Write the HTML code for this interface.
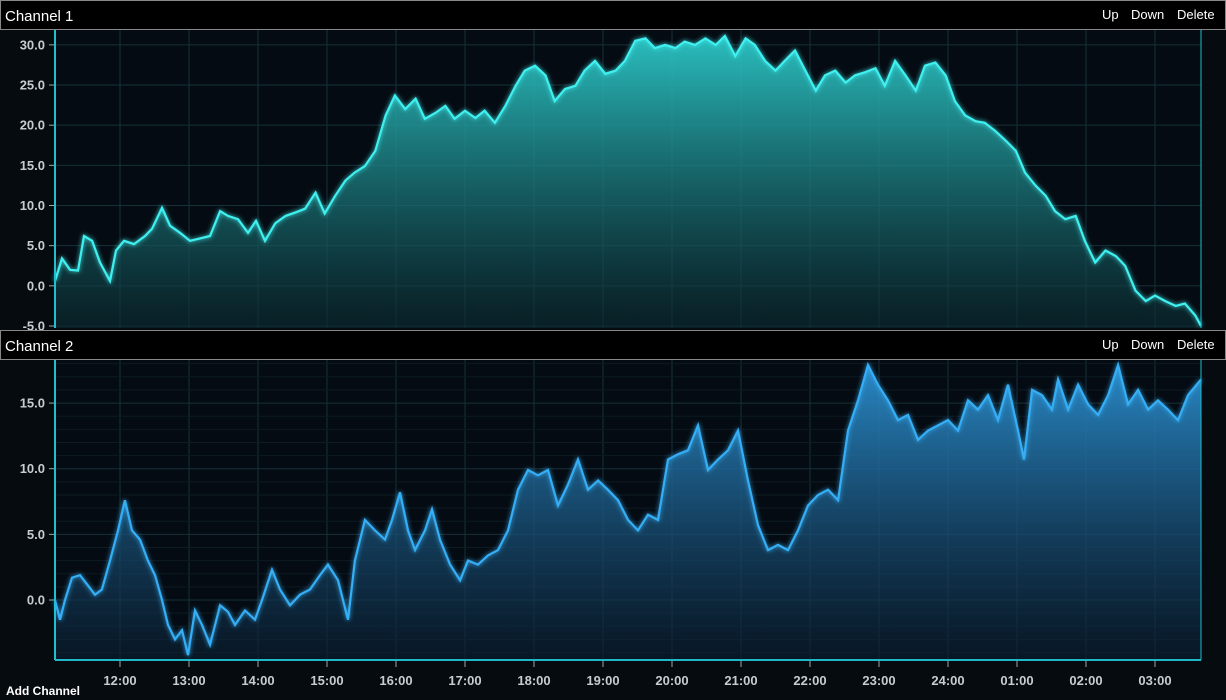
<!DOCTYPE html>
<html><head><meta charset="utf-8"><style>
html,body{margin:0;padding:0;background:#060b10;width:1226px;height:700px;overflow:hidden;font-family:"Liberation Sans",sans-serif}
svg{position:absolute;left:0;top:0}
</style></head><body>
<svg id="chart" width="1226" height="700"></svg>
<script>
// minutes since 11:00
const ch1Times=[3.5,9.6,16.5,23.5,28.7,35.7,42.6,51.3,56.5,63.5,72.2,81.7,87.8,96.5,103.5,112.2,120.9,129.6,138.3,147,153.9,162.6,171.3,178.3,186.1,195,204,212,221,230,238,247,256,264,273,282,291,299,308,317,325,334,343,351,360,369,377,386,395,404,412,421,430,438,447,456,464,473,482,491,499,508,517,525,534,543,551,560,569,578,586,595,604,612,621,630,638,647,656,665,673,682,691,699,708,717,725,734,743,752,760,769,778,786,795,804,812,821,830,839,847,856,865,873,882,891,899,908,917,926,934,943,952,960,969,978,986,995,1000];
const ch1Values=[0.6,3.4,2,1.9,6.2,5.6,2.9,0.6,4.4,5.6,5.2,6.2,7.1,9.7,7.5,6.6,5.6,5.9,6.2,9.3,8.7,8.3,6.6,8.1,5.6,7.8,8.7,9.1,9.6,11.6,9,11.2,13.1,14.1,14.9,16.8,21.2,23.7,22,23.3,20.8,21.5,22.4,20.8,21.8,20.9,21.8,20.3,22.4,24.9,26.8,27.4,26.2,23,24.5,24.9,26.8,28,26.4,26.8,28,30.5,30.8,29.6,30,29.6,30.4,30,30.8,30,31.1,28.6,30.8,30,28,26.8,28,29.3,26.8,24.3,26.2,26.8,25.3,26.2,26.6,27.1,24.9,28,26.2,24.3,27.4,27.8,26.2,23,21.2,20.5,20.3,19.3,18.1,16.8,14.1,12.5,11.2,9.3,8.3,8.7,5.6,2.9,4.4,3.7,2.5,-0.6,-1.9,-1.2,-1.9,-2.5,-2.2,-3.7,-5];
const ch2Times=[3.5,7.8,12.2,18.3,25.2,32.2,38.3,44.3,51.3,58.3,64.3,70.4,77.4,84.3,90.4,96.5,101.7,107.8,113.9,119.1,125.2,131.3,138.3,147,153.9,160,168.7,177.4,183.5,192.2,199.1,207.8,216.5,225.2,233.9,240.9,249.6,258.3,264.3,273,281.7,290.4,296.5,303.5,310.4,316.5,325.2,331.3,338.3,347,355.7,362.6,371.3,380,388.7,397.4,406.1,414.8,423.5,432.2,440.9,449.6,458.3,467,475.7,484.3,493,501.7,510.4,519.1,527.8,536.5,545.2,553.9,562.6,571.3,580,588.7,597.4,606.1,614.8,623.5,632.2,640.9,649.6,658.3,667,675.7,684.4,693,701.7,710.4,719.1,727.8,736.5,745.2,753.9,762.6,771.3,780,788.7,797.4,806.1,814.8,823.5,832.2,840.9,846.1,853.1,861.8,870.4,875.7,884.4,893.1,901.8,910.5,919.2,927.9,936.6,945.3,954,962.6,971.3,980,988.7,1000];
const ch2Values=[0,-1.5,0,1.7,1.9,1.1,0.4,0.8,3,5.3,7.6,5.3,4.6,3,1.9,0,-1.9,-3,-2.3,-4.2,-0.8,-1.9,-3.4,-0.4,-0.9,-1.9,-0.8,-1.5,0,2.3,0.8,-0.4,0.4,0.8,1.9,2.7,1.5,-1.5,3,6.1,5.3,4.6,6.1,8.2,5.3,3.8,5.3,6.9,4.6,2.7,1.5,3,2.7,3.4,3.8,5.3,8.4,9.9,9.5,9.9,7.2,8.8,10.7,8.4,9.1,8.4,7.6,6.1,5.3,6.5,6.1,10.7,11.1,11.4,13.3,9.9,10.7,11.4,12.9,9.1,5.7,3.8,4.2,3.8,5.3,7.2,8,8.4,7.6,12.9,15.2,17.9,16.4,15.2,13.7,14.1,12.2,12.9,13.3,13.7,12.9,15.2,14.5,15.6,13.7,16.4,12.9,10.7,16,15.6,14.5,16.8,14.5,16.4,14.9,14.1,15.6,17.9,14.9,16,14.5,15.2,14.5,13.7,15.6,16.8];
const ch1Ticks=[-5,0,5,10,15,20,25,30];
const ch2Ticks=[0,5,10,15];
const hourLabels=["12:00","13:00","14:00","15:00","16:00","17:00","18:00","19:00","20:00","21:00","22:00","23:00","24:00","01:00","02:00","03:00"];
const hourOffsets=[1,2,3,4,5,6,7,8,9,10,11,12,13,14,15,16];

const NS="http://www.w3.org/2000/svg";
const svg=document.getElementById('chart');
function mk(t,a,p){const e=document.createElementNS(NS,t);for(const k in a)e.setAttribute(k,a[k]);(p||svg).appendChild(e);return e;}
const X0=55,X1=1201;
const xMin=m=>Math.min(X1,Math.max(X0,51+m*69/60));
const xHour=h=>51+h*69;
svg.innerHTML=`<defs>
<linearGradient id="g1" x1="0" y1="0" x2="0" y2="1"><stop offset="0" stop-color="#2cc8c8" stop-opacity="0.95"/><stop offset="1" stop-color="#0a2a30" stop-opacity="0.6"/></linearGradient>
<linearGradient id="g2" x1="0" y1="0" x2="0" y2="1"><stop offset="0" stop-color="#2b8fd0" stop-opacity="0.95"/><stop offset="1" stop-color="#0a1e30" stop-opacity="0.6"/></linearGradient>
<filter id="glow" x="-5%" y="-5%" width="110%" height="110%"><feGaussianBlur stdDeviation="2.5" result="b"/><feMerge><feMergeNode in="b"/><feMergeNode in="SourceGraphic"/></feMerge></filter>
</defs>`;
function panel(cfg){
  const {top,bot,vTop,vBot,times,vals,ticks,line,grad,name,title,hy,minor}=cfg;
  const y=v=>top+(vTop-v)/(vTop-vBot)*(bot-top);
  const g=mk('g',{});
  mk('rect',{x:X0,y:top,width:X1-X0,height:bot-top,fill:'#050b12'},g);
  hourOffsets.forEach(h=>{const x=xHour(h);if(x<X1)mk('line',{x1:x,x2:x,y1:top,y2:bot,stroke:'#17303a','stroke-width':1},g);});
  for(let v=Math.ceil(vBot);v<=vTop;v+=1){
    if(v%5===0) mk('line',{x1:X0,x2:X1,y1:y(v),y2:y(v),stroke:'#17303a','stroke-width':1},g);
    else if(minor) mk('line',{x1:X0,x2:X1,y1:y(v),y2:y(v),stroke:'#0d1b23','stroke-width':1},g);
  }
  ticks.forEach(v=>{
    mk('line',{x1:X0-6,x2:X0,y1:y(v),y2:y(v),stroke:'#9aa'},g);
    const t=mk('text',{x:X0-10,y:y(v)+4.5,'text-anchor':'end',fill:'#c8ccd0','font-size':13,'font-weight':'bold'},g);
    t.textContent=v.toFixed(1);
  });
  const n=Math.min(vals.length,times.length);
  let d='';for(let i=0;i<n;i++)d+=(i?'L':'M')+xMin(times[i]).toFixed(1)+','+y(vals[i]).toFixed(1);
  const area=mk('path',{d:d+`L${X1},${bot}L${X0},${bot}Z`,fill:`url(#${grad})`},g);
  
  const p=mk('path',{d,fill:'none',stroke:line,'stroke-width':2.2,filter:'url(#glow)'},g);
  
  mk('line',{x1:X0,x2:X0,y1:top,y2:bot,stroke:'#20c0d0','stroke-width':2},g);
  mk('line',{x1:X1,x2:X1,y1:top,y2:bot,stroke:'#20b8c8','stroke-width':1},g);
  const hb=mk('rect',{x:0.5,y:hy+0.5,width:1225,height:29,fill:'#000',stroke:'#888'});
  
  const tt=mk('text',{x:5,y:hy+21,fill:'#fff','font-size':15});tt.textContent=title;
  
  [['Up',1102],['Down',1131],['Delete',1177]].forEach(([s,x])=>{
    const b=mk('text',{x,y:hy+19,fill:'#fff','font-size':13});b.textContent=s;
    
  });
}
panel({top:30,bot:328,vTop:31.85,vBot:-5.25,times:ch1Times,vals:ch1Values,ticks:ch1Ticks,line:'#3ff0f0',grad:'g1',name:'channel-1',title:'Channel 1',hy:0,minor:false});
panel({top:360,bot:660,vTop:18.28,vBot:-4.57,times:ch2Times,vals:ch2Values,ticks:ch2Ticks,line:'#35aef5',grad:'g2',name:'channel-2',title:'Channel 2',hy:330,minor:true});
mk('line',{x1:X0,x2:X1,y1:660,y2:660,stroke:'#20b8c8','stroke-width':2});
hourOffsets.forEach((h,i)=>{const x=xHour(h);
  mk('line',{x1:x,x2:x,y1:661,y2:667,stroke:'#9aa'});
  const t=mk('text',{x,y:685,'text-anchor':'middle',fill:'#c8ccd0','font-size':13,'font-weight':'bold'});
  t.textContent=hourLabels[i];});
const a=mk('text',{x:6,y:695,fill:'#fff','font-size':12,'font-weight':'bold'});a.textContent='Add Channel';


</script>
</body></html>
